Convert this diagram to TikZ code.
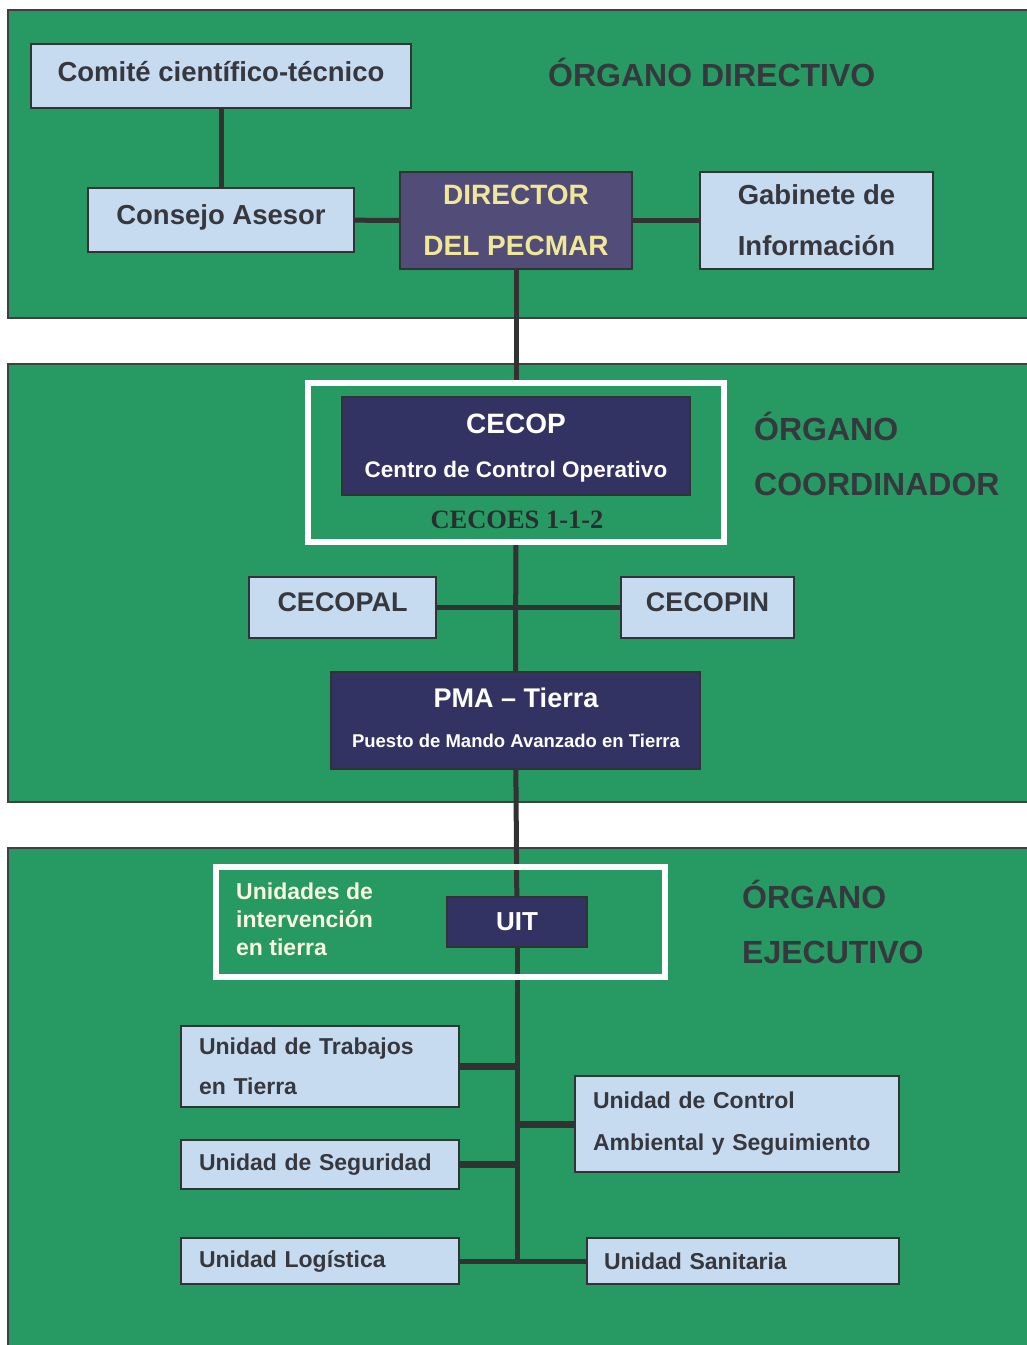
\documentclass[tikz,border=0pt]{standalone}
\usepackage{fontspec}
\setmainfont{Liberation Sans}
\newfontfamily\cecoesfont{Liberation Serif}
\definecolor{panelgreen}{RGB}{39,153,98}
\definecolor{panelborder}{RGB}{64,64,64}
\definecolor{boxblue}{RGB}{198,219,240}
\definecolor{boxborder}{RGB}{50,50,55}
\definecolor{dirpurple}{RGB}{82,76,121}
\definecolor{navy}{RGB}{51,51,99}
\definecolor{txtdark}{RGB}{55,55,62}
\definecolor{txtyellow}{RGB}{240,232,150}
\definecolor{txtcream}{RGB}{250,248,225}
\definecolor{linegray}{RGB}{50,50,50}
\newcommand{\fsz}[2]{\fontsize{#1}{#2}\selectfont}
\begin{document}
\begin{tikzpicture}[x=1pt,y=-1pt,
    panel/.style={draw=panelborder,line width=2.5pt,fill=panelgreen},
    lightbox/.style={draw=boxborder,line width=1.5pt,fill=boxblue,text=txtdark,inner sep=0pt,align=center,font=\bfseries\fsz{27.5}{51}},
    unitbox/.style={draw=boxborder,line width=1.5pt,fill=boxblue,text=txtdark,inner ysep=0pt,inner xsep=18pt,align=left,font=\bfseries\fsz{23}{40}},
    darkbox/.style={draw=boxborder,line width=1.5pt,fill=navy,text=white,inner sep=0pt},
    frame/.style={draw=white,line width=6pt,inner sep=0pt},
    title/.style={text=txtdark,font=\bfseries\fsz{32}{55},align=left,anchor=west,inner sep=0pt},
    link/.style={draw=linegray,line width=5pt},
    thicklink/.style={draw=linegray,line width=7pt}]
  \useasboundingbox (0,0) rectangle (1027,1345);

  % 背景
  \draw[panel] (8,10) rectangle (1040,318);
  \draw[panel] (8,364) rectangle (1040,802);
  \draw[panel] (8,848) rectangle (1040,1360);

  % 上段
  \node[lightbox,text depth=10pt,minimum width=380pt,minimum height=64pt] (comite) at (221,76) {Comité científico-técnico};
  \node[lightbox,text depth=10pt,minimum width=266pt,minimum height=64pt] (consejo) at (221,220) {Consejo Asesor};
  \node[lightbox,fill=dirpurple,text=txtyellow,font=\bfseries\fsz{28}{51},minimum width=232pt,minimum height=97pt] (director) at (516,220.5) {DIRECTOR\\DEL PECMAR};
  \node[lightbox,minimum width=233pt,minimum height=97pt] (gabinete) at (816.5,220.5) {Gabinete de\\Información};
  \node[title] (tdirectivo) at (548,72) {ÓRGANO DIRECTIVO};

  % 中段
  \node[frame,minimum width=416pt,minimum height=159pt] (cecoes) at (516,462.5) {};
  \node[darkbox,minimum width=348pt,minimum height=98pt] (cecop) at (516,446) {};
  \node[text=white,font=\bfseries\fsz{28}{34}] (cecoptxt) at (516,424) {CECOP};
  \node[text=white,font=\bfseries\fsz{22.5}{27}] (cecopsub) at (516,472) {Centro de Control Operativo};
  \node[text=txtdark!80!black,font=\cecoesfont\bfseries\fsz{26.5}{32}] (cecoestxt) at (517,520) {CECOES 1-1-2};
  \node[title] (tcoordinador) at (754,454) {ÓRGANO\\COORDINADOR};

  \node[lightbox,text depth=10pt,font=\bfseries\fsz{27}{32},minimum width=187pt,minimum height=61pt] (cecopal) at (342.5,607.5) {CECOPAL};
  \node[lightbox,text depth=10pt,font=\bfseries\fsz{27}{32},minimum width=173pt,minimum height=61pt] (cecopin) at (707.5,607.5) {CECOPIN};

  \node[darkbox,minimum width=369pt,minimum height=97pt] (pma) at (515.5,720.5) {};
  \node[text=white,font=\bfseries\fsz{27}{32}] (pmatxt) at (516,698) {PMA -- Tierra};
  \node[text=white,font=\bfseries\fsz{18.5}{22}] (pmasub) at (516,741) {Puesto de Mando Avanzado en Tierra};

  % 下段
  \node[darkbox,font=\bfseries\fsz{26}{30},minimum width=140pt,minimum height=50pt] (uit) at (517,922) {UIT};
  \node[text=txtcream,font=\bfseries\fsz{23}{28},align=left,anchor=west,inner sep=0pt] (uittxt) at (236,919) {Unidades de\\intervención\\en tierra};
  \node[title] (tejecutivo) at (742,922) {ÓRGANO\\EJECUTIVO};

  \node[unitbox,text width=242pt,minimum height=81pt] (trabajos) at (320,1066.5) {Unidad de Trabajos\\en Tierra};
  \node[unitbox,text width=242pt,minimum height=49pt] (seguridad) at (320,1164.5) {Unidad de Seguridad};
  \node[unitbox,text width=242pt,minimum height=46pt] (logistica) at (320,1261) {Unidad Logística};
  \node[unitbox,text width=288pt,minimum height=96pt,font=\bfseries\fsz{23}{42}] (control) at (737,1124) {Unidad de Control\\Ambiental y Seguimiento};
  \node[unitbox,inner xsep=17pt,text width=278pt,minimum height=46pt] (sanitaria) at (743,1261) {Unidad Sanitaria};
  \coordinate (trunkend) at (517,1262);

  % 接続線
  \draw[link] (comite) -- (consejo);
  \draw[link] (consejo) -- (director);
  \draw[link] (director) -- (gabinete);
  \draw[link] (director) -- (cecoes);
  \draw[link] (cecoes) -- (pma);
  \draw[link] (cecopal) -- (cecopin);
  \draw[link] (pma) -- (uit);
  \draw[link] (uit) -- (trunkend);
  \draw[thicklink] (trabajos.east) -- (trabajos.east -| trunkend);
  \draw[thicklink] (seguridad.east) -- (seguridad.east -| trunkend);
  \draw[thicklink] (control.west) -- (control.west -| trunkend);
  \draw[link] (logistica) -- (sanitaria);

  % 白枠
  \node[frame,minimum width=449pt,minimum height=110pt] (uitframe) at (440.5,922) {};
\end{tikzpicture}
\end{document}
